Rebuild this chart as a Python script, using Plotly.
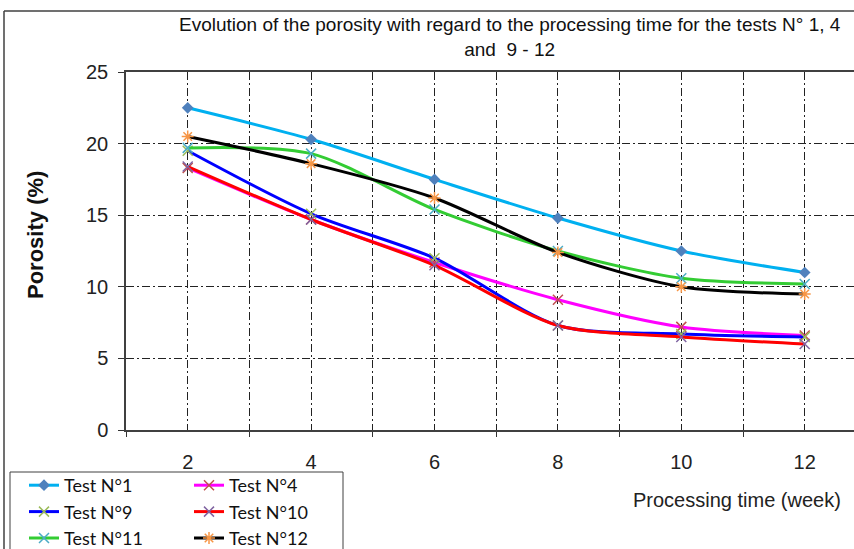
import plotly.graph_objects as go

weeks = [2, 4, 6, 8, 10, 12]
test1 = [22.5, 20.3, 17.5, 14.8, 12.5, 11.0]
test4 = [18.3, 14.7, 11.7, 9.1, 7.2, 6.6]
test9 = [19.5, 15.1, 12.0, 7.3, 6.7, 6.5]
test10 = [18.4, 14.7, 11.5, 7.3, 6.5, 6.0]
test11 = [19.7, 19.3, 15.4, 12.5, 10.6, 10.2]
test12 = [20.5, 18.6, 16.2, 12.4, 10.0, 9.5]

series_names = ["Test N°1", "Test N°4", "Test N°9", "Test N°10", "Test N°11", "Test N°12"]
series_vals = [test1, test4, test9, test10, test11, test12]
line_colors = ["#00B0F0", "#FF00FF", "#0000FF", "#FF0000", "#33CC33", "#000000"]
marker_colors = ["#4F81BD", "#C0504D", "#9BBB59", "#8064A2", "#4BACC6", "#F79646"]
marker_symbols = ["diamond", "x-thin-open", "x-thin-open", "x-thin-open", "x-thin-open", "asterisk-open"]
legend_ids = ["legend", "legend2", "legend", "legend2", "legend", "legend2"]

W, H = 854, 549
L, R, T, B = 126, 0, 72, 119
pw, ph = W - L - R, H - T - B


def px(x):
    return (x - L) / pw


def py(y):
    return (H - B - y) / ph


fig = go.Figure()
for name, vals, lc, mc, sym, lg in zip(series_names, series_vals, line_colors,
                                       marker_colors, marker_symbols, legend_ids):
    fig.add_trace(go.Scatter(
        x=weeks, y=vals, name=name, mode="lines+markers", legend=lg,
        line=dict(color=lc, width=3, shape="spline", smoothing=0.8),
        marker=dict(symbol=sym, color=mc, size=10 if sym != "diamond" else 9,
                    line=dict(color=mc, width=1.5 if sym != "diamond" else 0)),
    ))

grid_dash = "8px,3px,2px,3px"
legend_font = dict(family="Lato, Carlito, sans-serif", size=18, color="#111111")
fig.update_layout(
    width=W, height=H,
    margin=dict(l=L, r=R, t=T, b=B, autoexpand=False),
    paper_bgcolor="white", plot_bgcolor="white",
    font=dict(family="Liberation Sans, Arial, sans-serif", size=20, color="#222222"),
    xaxis=dict(
        range=[1, 1 + pw / 61.7], tickvals=[2, 4, 6, 8, 10, 12], ticks="",
        ticklabelstandoff=13,
        showgrid=True, gridcolor="#222222", gridwidth=1, griddash=grid_dash,
        minor=dict(tickvals=[1, 3, 5, 7, 9, 11, 13], ticks="outside", ticklen=5,
                   tickcolor="#333333", showgrid=True, gridcolor="#222222",
                   gridwidth=1, griddash=grid_dash),
        showline=True, linecolor="#404040", linewidth=1.5, mirror=True,
        zeroline=False, tickfont=dict(size=20),
    ),
    yaxis=dict(
        range=[0, 25], tickvals=[0, 5, 10, 15, 20, 25], ticks="outside", ticklen=6,
        tickcolor="#333333", ticklabelstandoff=6,
        showgrid=True, gridcolor="#222222", gridwidth=1, griddash=grid_dash,
        showline=True, linecolor="#404040", linewidth=1.5, zeroline=False,
        tickfont=dict(size=20),
    ),
    legend=dict(
        orientation="v", x=px(24), xanchor="left", y=py(467), yanchor="top",
        borderwidth=0, bgcolor="rgba(0,0,0,0)", font=legend_font, itemclick=False,
    ),
    legend2=dict(
        orientation="v", x=px(189), xanchor="left", y=py(467), yanchor="top",
        borderwidth=0, bgcolor="rgba(0,0,0,0)", font=legend_font, itemclick=False,
    ),
    showlegend=True,
)

fig.add_annotation(
    text="Evolution of the porosity with regard to the processing time for the tests N° 1, 4<br>and  9 - 12",
    xref="paper", yref="paper", x=px(510), y=py(12), xanchor="center", yanchor="top",
    showarrow=False, align="center",
    font=dict(family="Liberation Sans Narrow, Arial Narrow, sans-serif", size=19, color="#111111"),
)
fig.add_annotation(
    text="<b>Porosity (%)</b>", textangle=-90,
    xref="paper", yref="paper", x=px(35), y=py(235), xanchor="center", yanchor="middle",
    showarrow=False, font=dict(family="Liberation Sans, Arial, sans-serif", size=22, color="#111111"),
)
fig.add_annotation(
    text="Processing time (week)",
    xref="paper", yref="paper", x=px(843), y=py(500), xanchor="right", yanchor="middle",
    showarrow=False, font=dict(family="Liberation Sans, Arial, sans-serif", size=20, color="#222222"),
)

# outer chart frame (left and top edges visible)
fig.add_shape(type="line", xref="paper", yref="paper", x0=px(4), x1=px(4), y0=py(11), y1=py(560),
              line=dict(color="#404040", width=1.5))
fig.add_shape(type="line", xref="paper", yref="paper", x0=px(4), x1=px(870), y0=py(11), y1=py(11),
              line=dict(color="#404040", width=1.5))
# legend box
fig.add_shape(type="rect", xref="paper", yref="paper", x0=px(10), x1=px(343), y0=py(472), y1=py(560),
              line=dict(color="#404040", width=1))

fig.write_html("out.html")
